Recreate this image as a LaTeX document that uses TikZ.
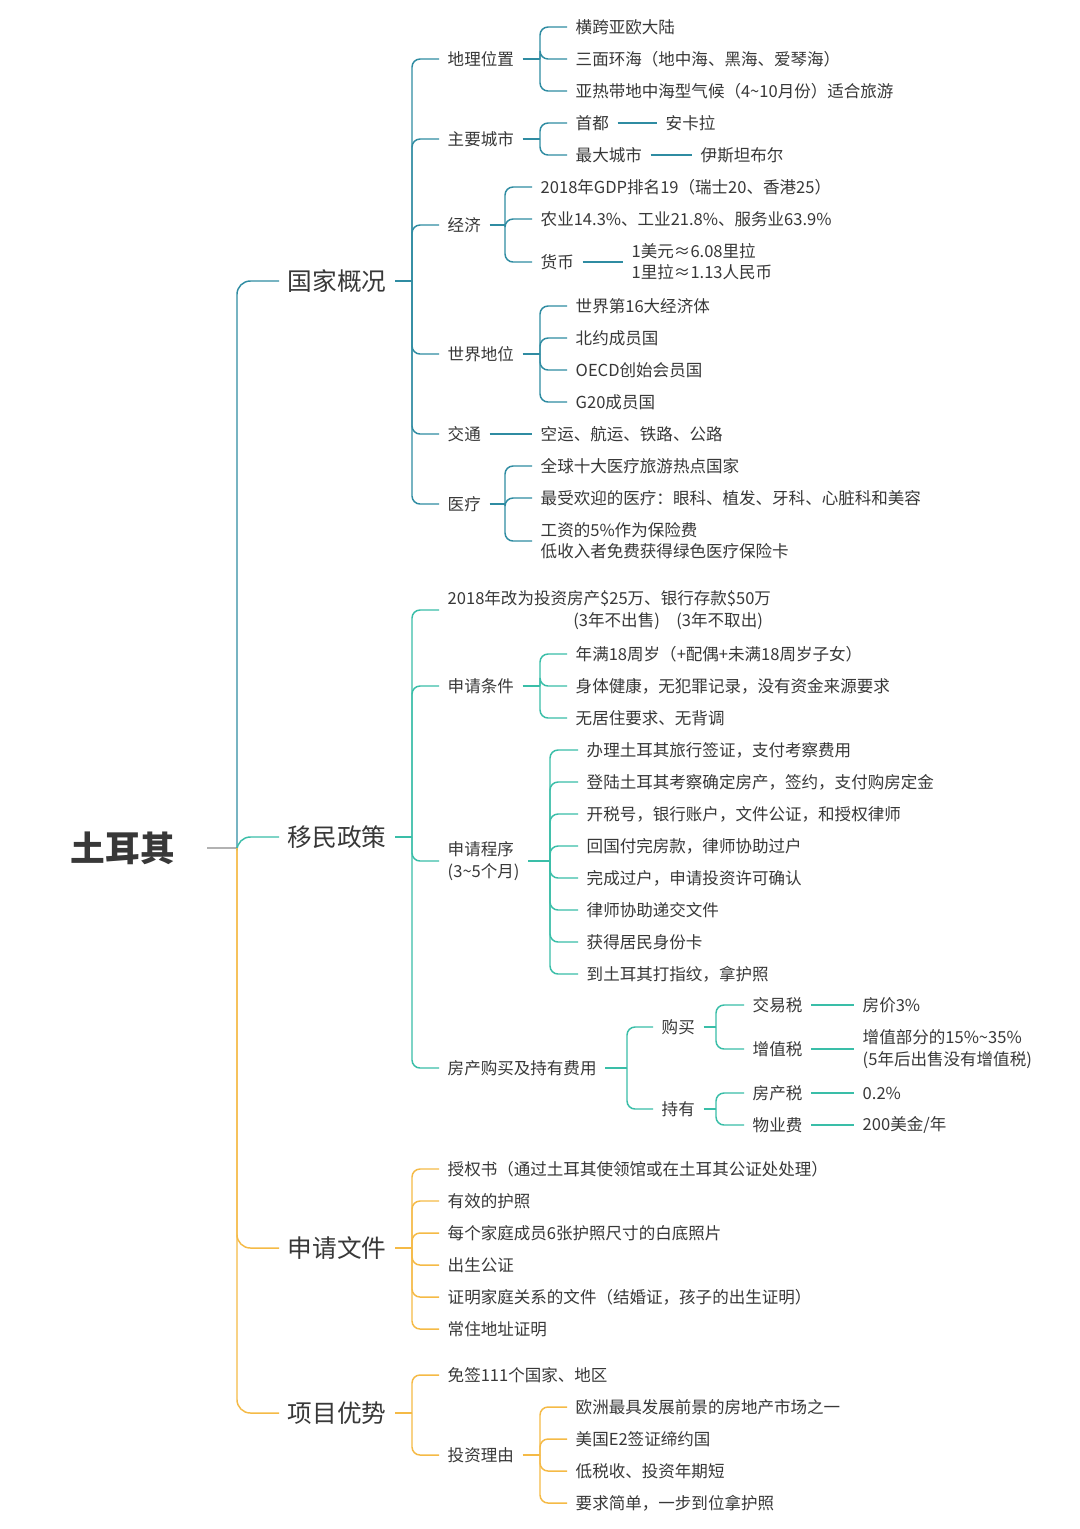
\documentclass[tikz,border=0pt]{standalone}
\usepackage{fontspec}
\setmainfont{Noto Sans CJK SC}
\begin{document}
\begin{tikzpicture}[x=0.75pt,y=-0.75pt,line width=1.1pt,
  t/.style={anchor=west,inner xsep=6pt,inner ysep=1pt,xshift=-6pt,text=black!78,font=\fontsize{12.4}{16}\selectfont,align=left},
  big/.style={t,font=\fontsize{18.5}{22}\selectfont},
  root/.style={t,font=\fontsize{26}{30}\selectfont\bfseries}]
\definecolor{cA}{RGB}{47,140,162}
\definecolor{cB}{RGB}{58,190,168}
\definecolor{cC}{RGB}{245,186,70}
\newcommand\mbr[4]{\coordinate (tmpp) at (#2.east); \coordinate (bxc) at (#3,0);
  \draw[#1] (tmpp) -- (tmpp -| bxc);
  \foreach \c in {#4} {\draw[#1,rounded corners=6pt] (tmpp -| bxc) |- (\c.west);}}
\useasboundingbox[fill=white] (0,0) rectangle (1080,1529);
% root
\node[root] (R) at (70,848) {土耳其};
\node[big] (A) at (287,281) {国家概况};
\node[big] (B) at (287,837) {移民政策};
\node[big] (C) at (287,1248) {申请文件};
\node[big] (D) at (287,1413) {项目优势};
\coordinate (rb) at (237,0);
\draw[gray!60] ([xshift=18pt]R.east) -- (R.east -| rb);
\draw[cA,rounded corners=10pt] (R.east -| rb) |- (A.west);
\draw[cB,rounded corners=10pt] (R.east -| rb) |- (B.west);
\draw[cC,rounded corners=10pt] (R.east -| rb) |- (C.west);
\draw[cC,rounded corners=10pt] (R.east -| rb) |- (D.west);
% ---- A
\node[t] (a1) at (447,59) {地理位置};
\node[t] (a2) at (447,139) {主要城市};
\node[t] (a3) at (447,225) {经济};
\node[t] (a4) at (447,354) {世界地位};
\node[t] (a5) at (447,434) {交通};
\node[t] (a6) at (447,504) {医疗};
\mbr{cA}{A}{412}{a1,a2,a3,a4,a5,a6}
\node[t] (a11) at (575,27) {横跨亚欧大陆};
\node[t] (a12) at (575,59) {三面环海（地中海、黑海、爱琴海）};
\node[t] (a13) at (575,91) {亚热带地中海型气候（4\textasciitilde10月份）适合旅游};
\mbr{cA}{a1}{540}{a11,a12,a13}
\node[t] (a21) at (575,123) {首都};
\node[t] (a22) at (575,155) {最大城市};
\mbr{cA}{a2}{540}{a21,a22}
\node[t] (a211) at (665,123) {安卡拉};
\node[t] (a221) at (700,155) {伊斯坦布尔};
\draw[cA] (a21.east) -- (a211.west);
\draw[cA] (a22.east) -- (a221.west);
\node[t] (a31) at (540,187) {2018年GDP排名19（瑞士20、香港25）};
\node[t] (a32) at (540,219) {农业14.3\%、工业21.8\%、服务业63.9\%};
\node[t] (a33) at (540,262) {货币};
\mbr{cA}{a3}{505}{a31,a32,a33}
\node[t] (a331) at (631,262) {1美元≈6.08里拉\\1里拉≈1.13人民币};
\draw[cA] (a33.east) -- (a331.west);
\node[t] (a41) at (575,306) {世界第16大经济体};
\node[t] (a42) at (575,338) {北约成员国};
\node[t] (a43) at (575,370) {OECD创始会员国};
\node[t] (a44) at (575,402) {G20成员国};
\mbr{cA}{a4}{540}{a41,a42,a43,a44}
\node[t] (a51) at (540,434) {空运、航运、铁路、公路};
\draw[cA] (a5.east) -- (a51.west);
\node[t] (a61) at (540,466) {全球十大医疗旅游热点国家};
\node[t] (a62) at (540,498) {最受欢迎的医疗：眼科、植发、牙科、心脏科和美容};
\node[t] (a63) at (540,541) {工资的5\%作为保险费\\低收入者免费获得绿色医疗保险卡};
\mbr{cA}{a6}{505}{a61,a62,a63}
% ---- B
\node[t] (b1) at (447,610) {2018年改为投资房产\$25万、银行存款\$50万\\\hspace*{7.6em}(3年不出售)\quad (3年不取出)};
\node[t] (b2) at (447,686) {申请条件};
\node[t] (b3) at (447,861) {申请程序\\(3\textasciitilde5个月)};
\node[t] (b4) at (447,1068) {房产购买及持有费用};
\mbr{cB}{B}{412}{b1,b2,b3,b4}
\node[t] (b21) at (575,654) {年满18周岁（+配偶+未满18周岁子女）};
\node[t] (b22) at (575,686) {身体健康，无犯罪记录，没有资金来源要求};
\node[t] (b23) at (575,718) {无居住要求、无背调};
\mbr{cB}{b2}{540}{b21,b22,b23}
\node[t] (b31) at (586,750) {办理土耳其旅行签证，支付考察费用};
\node[t] (b32) at (586,782) {登陆土耳其考察确定房产，签约，支付购房定金};
\node[t] (b33) at (586,814) {开税号，银行账户，文件公证，和授权律师};
\node[t] (b34) at (586,846) {回国付完房款，律师协助过户};
\node[t] (b35) at (586,878) {完成过户，申请投资许可确认};
\node[t] (b36) at (586,910) {律师协助递交文件};
\node[t] (b37) at (586,942) {获得居民身份卡};
\node[t] (b38) at (586,974) {到土耳其打指纹，拿护照};
\mbr{cB}{b3}{550}{b31,b32,b33,b34,b35,b36,b37,b38}
\node[t] (b41) at (661,1027) {购买};
\node[t] (b42) at (661,1109) {持有};
\mbr{cB}{b4}{627}{b41,b42}
\node[t] (b411) at (752,1005) {交易税};
\node[t] (b412) at (752,1049) {增值税};
\mbr{cB}{b41}{716}{b411,b412}
\node[t] (b421) at (752,1093) {房产税};
\node[t] (b422) at (752,1125) {物业费};
\mbr{cB}{b42}{716}{b421,b422}
\node[t] (v1) at (862,1005) {房价3\%};
\node[t] (v2) at (862,1049) {增值部分的15\%\textasciitilde35\%\\(5年后出售没有增值税)};
\node[t] (v3) at (862,1093) {0.2\%};
\node[t] (v4) at (862,1125) {200美金/年};
\draw[cB] (b411.east) -- (v1.west);
\draw[cB] (b412.east) -- (v2.west);
\draw[cB] (b421.east) -- (v3.west);
\draw[cB] (b422.east) -- (v4.west);
% ---- C
\node[t] (c1) at (447,1169) {授权书（通过土耳其使领馆或在土耳其公证处处理）};
\node[t] (c2) at (447,1201) {有效的护照};
\node[t] (c3) at (447,1233) {每个家庭成员6张护照尺寸的白底照片};
\node[t] (c4) at (447,1265) {出生公证};
\node[t] (c5) at (447,1297) {证明家庭关系的文件（结婚证，孩子的出生证明）};
\node[t] (c6) at (447,1329) {常住地址证明};
\mbr{cC}{C}{412}{c1,c2,c3,c4,c5,c6}
% ---- D
\node[t] (d1) at (447,1375) {免签111个国家、地区};
\node[t] (d2) at (447,1455) {投资理由};
\mbr{cC}{D}{412}{d1,d2}
\node[t] (d21) at (575,1407) {欧洲最具发展前景的房地产市场之一};
\node[t] (d22) at (575,1439) {美国E2签证缔约国};
\node[t] (d23) at (575,1471) {低税收、投资年期短};
\node[t] (d24) at (575,1503) {要求简单，一步到位拿护照};
\mbr{cC}{d2}{540}{d21,d22,d23,d24}
\end{tikzpicture}
\end{document}
